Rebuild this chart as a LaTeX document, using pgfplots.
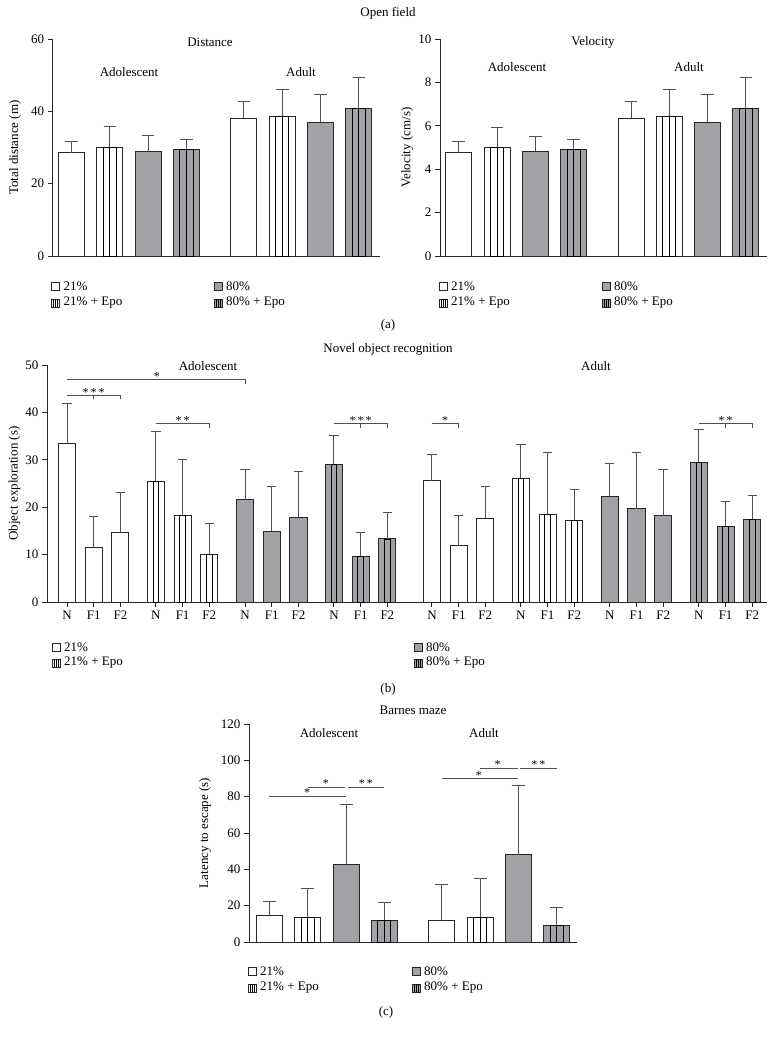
\documentclass[border=0pt]{standalone}
\usepackage{fontspec}
\setmainfont{Liberation Serif}
\usepackage{pgfplots}
\usepackage{pgfplotstable}
\pgfplotsset{compat=1.18}

\definecolor{barg}{HTML}{A2A2A6}
\definecolor{edge}{HTML}{262626}
\definecolor{errc}{HTML}{505050}

\newcommand{\fs}{\fontsize{13}{15}\selectfont}
\newcommand{\fstar}{\fontsize{12}{14}\selectfont}

% ---- data: x position, mean, SD ----
% (a) open field, distance (m)
\pgfplotstableread{
x m sd
0 28.6 3.0
4.5 38.1 4.7
}\dWhite
\pgfplotstableread{
x m sd
1 30.1 5.6
5.5 38.6 7.5
}\dWhiteE
\pgfplotstableread{
x m sd
2 28.9 4.3
6.5 37.0 7.7
}\dGray
\pgfplotstableread{
x m sd
3 29.5 2.8
7.5 40.8 8.5
}\dGrayE
% (a) open field, velocity (cm/s)
\pgfplotstableread{
x m sd
0 4.76 0.51
4.5 6.34 0.79
}\vWhite
\pgfplotstableread{
x m sd
1 5.02 0.92
5.5 6.44 1.24
}\vWhiteE
\pgfplotstableread{
x m sd
2 4.82 0.71
6.5 6.16 1.29
}\vGray
\pgfplotstableread{
x m sd
3 4.90 0.48
7.5 6.80 1.42
}\vGrayE
% (b) novel object recognition (s)
\pgfplotstableread{
x m sd
0 33.4 8.5
1 11.6 6.4
2 14.6 8.4
13.67 25.6 5.5
14.67 12.0 6.2
15.67 17.7 6.7
}\bWhite
\pgfplotstableread{
x m sd
3.33 25.4 10.5
4.33 18.3 11.7
5.33 10.0 6.6
17 26.1 7.2
18 18.5 13.0
19 17.3 6.5
}\bWhiteE
\pgfplotstableread{
x m sd
6.67 21.7 6.3
7.67 14.9 9.5
8.67 17.9 9.7
20.33 22.3 7.0
21.33 19.7 11.8
22.33 18.2 9.8
}\bGray
\pgfplotstableread{
x m sd
10 29.1 6.0
11 9.7 5.0
12 13.3 5.6
23.67 29.5 6.9
24.67 15.9 5.4
25.67 17.5 5.0
}\bGrayE
% (c) Barnes maze latency (s)
\pgfplotstableread{
x m sd
0 14.7 7.4
4.5 12.0 19.7
}\cWhite
\pgfplotstableread{
x m sd
1 13.4 16.2
5.5 13.4 21.8
}\cWhiteE
\pgfplotstableread{
x m sd
2 42.7 32.9
6.5 48.0 38.1
}\cGray
\pgfplotstableread{
x m sd
3 11.8 10.1
7.5 9.0 10.0
}\cGrayE

\pgfplotsset{
  panel/.style={
    scale only axis, anchor=south west,
    axis x line*=bottom, axis y line*=left,
    axis line style={line width=1pt, draw=edge},
    tick align=outside, major tick length=5pt,
    tick style={line width=1pt, draw=edge},
    ymin=0, clip=false,
    font=\fs, tick label style={font=\fs},
    /pgf/number format/assume math mode=true,
    ylabel style={anchor=center, font=\fs},
    bar width=0.68,
  },
}

% #1 table, #2 fill, #3 cap half-length
\newcommand{\bars}[3]{%
  \addplot[ybar, bar shift=0pt, fill=#2, draw=edge, line width=1pt,
    error bars/y dir=plus, error bars/y explicit,
    error bars/error bar style={line width=1pt, draw=errc},
    error bars/error mark options={rotate=90, mark size=#3, line width=1pt, draw=errc}]
    table[x=x, y=m, y error=sd]{#1};}
% three inner stripes (wide bars)
\newcommand{\stripesW}[1]{%
  \addplot[ybar, bar shift=0pt, bar width=0.34, fill=none, draw=black, line width=0.9pt]
    table[x=x, y=m]{#1};
  \addplot[ycomb, no markers, draw=black, line width=0.9pt] table[x=x, y=m]{#1};}
% two inner stripes (narrow bars)
\newcommand{\stripesN}[1]{%
  \addplot[ybar, bar shift=0pt, bar width=0.213, fill=none, draw=black, line width=0.9pt]
    table[x=x, y=m]{#1};}

% legend entry: x, y (px from top left), fill, striped 1/0, text
\newcommand{\legitem}[5]{%
  \draw[edge, line width=0.8pt, fill=#3] ({#1pt-4pt},{-#2pt-4pt}) rectangle ({#1pt+4pt},{-#2pt+4pt});
  \ifnum#4=1
    \foreach \dx in {-2,0,2} \draw[black, line width=0.7pt] ({#1pt+\dx pt},{-#2pt-4pt}) -- ++(0,8pt);
  \fi
  \node[anchor=west, font=\fs, inner sep=0pt] at ({#1pt+8pt},{-#2pt}) {#5};}

\begin{document}
\begin{tikzpicture}
\path[use as bounding box] (0,0) rectangle (776pt,-1039pt);

% ================= (a) =================
\node[font=\fs] at (388pt,-13pt) {Open field};

\begin{axis}[panel, at={(52.7pt,-256pt)}, width=327.3pt, height=217pt,
  xmin=-0.49, xmax=8.05, ymax=60, ytick={0,20,40,60}, xtick=\empty,
  ylabel={Total distance (m)},
  ylabel style={at={(axis description cs:-0.115,0.5)}}]
  \bars{\dWhite}{white}{6.3pt}
  \bars{\dWhiteE}{white}{6.3pt}
  \stripesW{\dWhiteE}
  \bars{\dGray}{barg}{6.3pt}
  \bars{\dGrayE}{barg}{6.3pt}
  \stripesW{\dGrayE}
\end{axis}

\begin{axis}[panel, at={(440pt,-256pt)}, width=327pt, height=217pt,
  xmin=-0.49, xmax=8.05, ymax=10, ytick={0,2,...,10}, xtick=\empty,
  ylabel={Velocity (cm/s)},
  ylabel style={at={(axis description cs:-0.10,0.5)}}]
  \bars{\vWhite}{white}{6.3pt}
  \bars{\vWhiteE}{white}{6.3pt}
  \stripesW{\vWhiteE}
  \bars{\vGray}{barg}{6.3pt}
  \bars{\vGrayE}{barg}{6.3pt}
  \stripesW{\vGrayE}
\end{axis}

\node[font=\fs] at (210pt,-42pt) {Distance};
\node[font=\fs] at (129pt,-72pt) {Adolescent};
\node[font=\fs] at (301pt,-72pt) {Adult};
\node[font=\fs] at (593pt,-42pt) {Velocity};
\node[font=\fs] at (517pt,-67pt) {Adolescent};
\node[font=\fs] at (689pt,-67pt) {Adult};

\legitem{55.5}{286}{white}{0}{21\%}
\legitem{55.5}{303}{white}{1}{21\% + Epo}
\legitem{218}{286}{barg}{0}{80\%}
\legitem{218}{303}{barg}{1}{80\% + Epo}
\legitem{443}{286}{white}{0}{21\%}
\legitem{443}{303}{white}{1}{21\% + Epo}
\legitem{606}{286}{barg}{0}{80\%}
\legitem{606}{303}{barg}{1}{80\% + Epo}

\node[font=\fs] at (388pt,-325pt) {(a)};

% ================= (b) =================
\node[font=\fs] at (388pt,-349pt) {Novel object recognition};

\begin{axis}[panel, at={(47pt,-602pt)}, width=720pt, height=237pt,
  xmin=-0.75, xmax=26.22, ymax=50, ytick={0,10,...,50}, bar width=0.64,
  xtick={0,1,2,3.33,4.33,5.33,6.67,7.67,8.67,10,11,12,13.67,14.67,15.67,17,18,19,20.33,21.33,22.33,23.67,24.67,25.67},
  xticklabels={N,F1,F2,N,F1,F2,N,F1,F2,N,F1,F2,N,F1,F2,N,F1,F2,N,F1,F2,N,F1,F2},
  ylabel={Object exploration (s)},
  ylabel style={at={(axis description cs:-0.045,0.5)}}]
  \bars{\bWhite}{white}{4.7pt}
  \bars{\bWhiteE}{white}{4.7pt}
  \stripesN{\bWhiteE}
  \bars{\bGray}{barg}{4.7pt}
  \bars{\bGrayE}{barg}{4.7pt}
  \stripesN{\bGrayE}
  % significance brackets
  \draw[errc, line width=0.9pt] (0,46.9) -- (6.67,46.9) -- (6.67,45.9);
  \node[font=\fstar, inner sep=0pt] at (3.37,47.6) {*};
  \draw[errc, line width=0.9pt] (0,43.5) -- (2,43.5) -- (2,42.8) (1,43.5) -- (1,42.8);
  \node[font=\fstar, inner sep=0pt] at (1,44.2) {*\,*\,*};
  \draw[errc, line width=0.9pt] (3.33,37.6) -- (5.33,37.6) -- (5.33,36.7);
  \node[font=\fstar, inner sep=0pt] at (4.33,38.3) {*\,*};
  \draw[errc, line width=0.9pt] (10,37.6) -- (12,37.6) -- (12,36.8) (11,37.6) -- (11,36.8);
  \node[font=\fstar, inner sep=0pt] at (11,38.3) {*\,*\,*};
  \draw[errc, line width=0.9pt] (13.67,37.6) -- (14.67,37.6) -- (14.67,36.8);
  \node[font=\fstar, inner sep=0pt] at (14.16,38.3) {*};
  \draw[errc, line width=0.9pt] (23.67,37.6) -- (25.67,37.6) -- (25.67,36.8) (24.67,37.6) -- (24.67,36.8);
  \node[font=\fstar, inner sep=0pt] at (24.67,38.3) {*\,*};
\end{axis}

\node[font=\fs] at (208pt,-366pt) {Adolescent};
\node[font=\fs] at (596pt,-366pt) {Adult};

\legitem{56}{647}{white}{0}{21\%}
\legitem{56}{663}{white}{1}{21\% + Epo}
\legitem{418}{647}{barg}{0}{80\%}
\legitem{418}{663}{barg}{1}{80\% + Epo}

\node[font=\fs] at (388pt,-689pt) {(b)};

% ================= (c) =================
\node[font=\fs] at (413pt,-710pt) {Barnes maze};

\begin{axis}[panel, at={(249pt,-942pt)}, width=328pt, height=218pt,
  xmin=-0.535, xmax=8.03, ymax=120, ytick={0,20,...,120}, xtick=\empty,
  ylabel={Latency to escape (s)},
  ylabel style={at={(axis description cs:-0.134,0.5)}}]
  \bars{\cWhite}{white}{6.5pt}
  \bars{\cWhiteE}{white}{6.5pt}
  \stripesW{\cWhiteE}
  \bars{\cGray}{barg}{6.5pt}
  \bars{\cGrayE}{barg}{6.5pt}
  \stripesW{\cGrayE}
  % significance brackets
  \draw[errc, line width=0.9pt] (0,79.9) -- (2,79.9);
  \node[font=\fstar, inner sep=0pt] at (0.98,82.0) {*};
  \draw[errc, line width=0.9pt] (1,85.2) -- (1.98,85.2);
  \node[font=\fstar, inner sep=0pt] at (1.47,87.3) {*};
  \draw[errc, line width=0.9pt] (2.04,85.2) -- (3,85.2);
  \node[font=\fstar, inner sep=0pt] at (2.52,87.3) {*\,*};
  \draw[errc, line width=0.9pt] (4.5,90.2) -- (6.5,90.2);
  \node[font=\fstar, inner sep=0pt] at (5.47,91.8) {*};
  \draw[errc, line width=0.9pt] (5.5,95.5) -- (6.48,95.5);
  \node[font=\fstar, inner sep=0pt] at (5.96,97.6) {*};
  \draw[errc, line width=0.9pt] (6.54,95.5) -- (7.5,95.5);
  \node[font=\fstar, inner sep=0pt] at (7.02,97.6) {*\,*};
\end{axis}

\node[font=\fs] at (329pt,-733pt) {Adolescent};
\node[font=\fs] at (484pt,-733pt) {Adult};

\legitem{252}{971}{white}{0}{21\%}
\legitem{252}{988}{white}{1}{21\% + Epo}
\legitem{416}{971}{barg}{0}{80\%}
\legitem{416}{988}{barg}{1}{80\% + Epo}

\node[font=\fs] at (386pt,-1012pt) {(c)};
\end{tikzpicture}
\end{document}
